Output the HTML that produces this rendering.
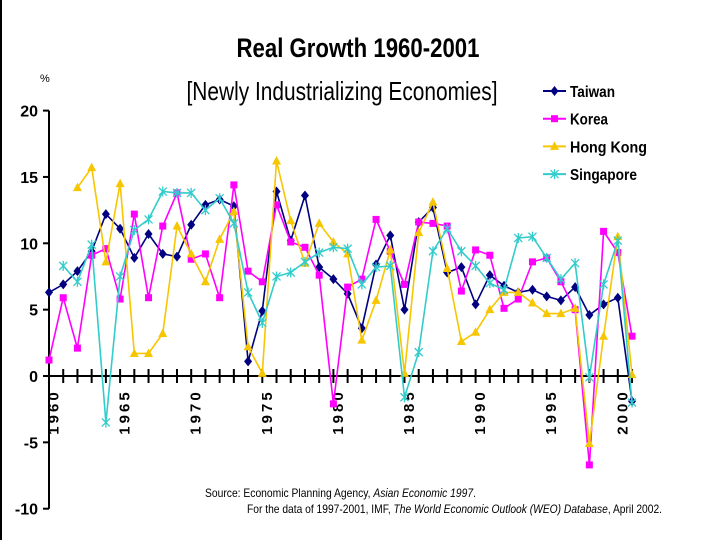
<!DOCTYPE html>
<html><head><meta charset="utf-8"><style>
html,body{margin:0;padding:0;background:#fff;}
svg{display:block;font-family:"Liberation Sans",Arial,sans-serif;}
</style></head><body>
<svg id="chart" width="720" height="540" viewBox="0 0 720 540">
<rect x="0" y="0" width="720" height="540" fill="#fff"/>
<line x1="1" y1="0" x2="1" y2="540" stroke="#000" stroke-width="2"/>
<text x="358" y="57" text-anchor="middle" font-size="27" font-weight="bold" textLength="243" lengthAdjust="spacingAndGlyphs">Real Growth 1960-2001</text>
<text x="342" y="100" text-anchor="middle" font-size="26" textLength="311" lengthAdjust="spacingAndGlyphs">[Newly Industrializing Economies]</text>
<text x="40" y="82" font-size="11">%</text>
<g id="axes"></g>
<g id="series"></g>
<g id="legend"></g>
<text x="205" y="497" font-size="12" textLength="271" lengthAdjust="spacingAndGlyphs">Source: Economic Planning Agency, <tspan font-style="italic">Asian Economic 1997</tspan>.</text>
<text x="247" y="513" font-size="12" textLength="415" lengthAdjust="spacingAndGlyphs">For the data of 1997-2001, IMF, <tspan font-style="italic">The World Economic Outlook (WEO) Database</tspan>, April 2002.</text>
</svg>
<script>
const years = [];
for (let y = 1960; y <= 2001; y++) years.push(y);
const yTicks = [20, 15, 10, 5, 0, -5, -10];
const xLabels = [1960, 1965, 1970, 1975, 1980, 1985, 1990, 1995, 2000];
const taiwan = [6.3,6.9,7.9,9.4,12.2,11.1,8.9,10.7,9.2,9.0,11.4,12.9,13.3,12.8,1.1,4.9,13.9,10.2,13.6,8.2,7.3,6.2,3.6,8.4,10.6,5.0,11.6,12.7,7.8,8.2,5.4,7.6,6.8,6.3,6.5,6.0,5.7,6.7,4.6,5.4,5.9,-1.9];
const korea = [1.2,5.9,2.1,9.1,9.6,5.8,12.2,5.9,11.3,13.8,8.8,9.2,5.9,14.4,7.9,7.1,12.9,10.1,9.7,7.6,-2.1,6.7,7.3,11.8,9.4,6.9,11.6,11.5,11.3,6.4,9.5,9.1,5.1,5.8,8.6,8.9,7.1,5.0,-6.7,10.9,9.3,3.0];
const hongKong = [null,null,14.2,15.7,8.6,14.5,1.7,1.7,3.2,11.3,9.2,7.1,10.3,12.4,2.2,0.2,16.2,11.7,8.5,11.5,10.1,9.2,2.7,5.7,9.5,0.2,10.8,13.1,8.1,2.6,3.3,5.0,6.3,6.3,5.5,4.7,4.7,5.1,-5.1,3.0,10.5,0.1];
const singapore = [null,8.3,7.1,9.9,-3.5,7.5,11.0,11.8,13.9,13.8,13.8,12.5,13.4,11.5,6.3,4.0,7.5,7.8,8.6,9.3,9.7,9.6,6.9,8.2,8.3,-1.6,1.8,9.4,11.1,9.4,8.3,7.0,6.5,10.4,10.5,8.9,7.3,8.5,-0.1,6.9,10.2,-2.0];
const seriesNames = ["Taiwan","Korea","Hong Kong","Singapore"];

const NS = "http://www.w3.org/2000/svg";
const X0 = 49, DX = 14.22, Y0 = 376, DY = 13.27;
function xScale(yr){ return X0 + (yr - 1960) * DX; }
function yScale(v){ return Y0 - v * DY; }
function mk(tag, attrs, parent){
  const e = document.createElementNS(NS, tag);
  for (const k in attrs) e.setAttribute(k, attrs[k]);
  parent.appendChild(e); return e;
}
const axes = document.getElementById('axes');
let yl = mk('line',{x1:X0,y1:yScale(20),x2:X0,y2:yScale(-10),stroke:'#000','stroke-width':2},axes);


yTicks.forEach(v=>{
  let t = mk('line',{x1:X0-6,y1:yScale(v),x2:X0,y2:yScale(v),stroke:'#000','stroke-width':2},axes);
  
  
  let l = mk('text',{x:38,y:yScale(v)+6,'text-anchor':'end','font-size':16,'font-weight':'bold'},axes);
  l.textContent = v;
  
  
});
let xl = mk('line',{x1:X0,y1:Y0,x2:xScale(2001),y2:Y0,stroke:'#000','stroke-width':2},axes);


years.forEach(yr=>{
  let t = mk('line',{x1:xScale(yr),y1:Y0-7,x2:xScale(yr),y2:Y0+7,stroke:'#000','stroke-width':2},axes);
  
  
});
xLabels.forEach(yr=>{
  const cx = xScale(yr)+5, cy = 412;
  let l = mk('text',{x:cx,y:cy,'text-anchor':'middle','font-size':15,'font-weight':'bold','letter-spacing':'3',transform:`rotate(-90 ${cx} ${cy})`,'dominant-baseline':'central'},axes);
  l.textContent = yr;
  
  
});

const colors = ["#000080","#FF00FF","#F7C600","#33CCCC"];
const data = [taiwan, korea, hongKong, singapore];
const sg = document.getElementById('series');
function marker(kind, x, y, c, parent){
  let m;
  if (kind===0) m = mk('path',{d:`M${x} ${y-5}L${x+4} ${y}L${x} ${y+5}L${x-4} ${y}Z`,fill:c},parent);
  else if (kind===1) m = mk('rect',{x:x-3.5,y:y-3.5,width:7,height:7,fill:c},parent);
  else if (kind===2) m = mk('path',{d:`M${x} ${y-5}L${x+4.5} ${y+3.5}L${x-4.5} ${y+3.5}Z`,fill:c},parent);
  else m = mk('path',{d:`M${x-4} ${y-4}L${x+4} ${y+4}M${x+4} ${y-4}L${x-4} ${y+4}M${x} ${y-5}L${x} ${y+5}`,stroke:c,'stroke-width':1.3,fill:'none'},parent);
  return m;
}
data.forEach((arr, si)=>{
  const g = mk('g',{},sg);
  
  
  let d = '';
  arr.forEach((v,i)=>{ if (v===null) return; d += (d?'L':'M') + xScale(years[i]).toFixed(1) + ' ' + yScale(v).toFixed(1); });
  const p = mk('path',{d:d,fill:'none',stroke:colors[si],'stroke-width':1.6},g);
  
  
  arr.forEach((v,i)=>{
    if (v===null) return;
    const m = marker(si, xScale(years[i]), yScale(v), colors[si], g);
    
    
  });
});
const lg = document.getElementById('legend');
seriesNames.forEach((n,i)=>{
  const y = 91 + i*27.7;
  const g = mk('g',{},lg);
  
  
  mk('line',{x1:543,y1:y,x2:566,y2:y,stroke:colors[i],'stroke-width':2},g);
  marker(i,554.5,y,colors[i],g);
  const t = mk('text',{x:570,y:y+6,'font-size':16,'font-weight':'bold',textLength:[45,38,77,67][i],lengthAdjust:'spacingAndGlyphs'},g);
  t.textContent = n;
});
</script>
</body></html>
